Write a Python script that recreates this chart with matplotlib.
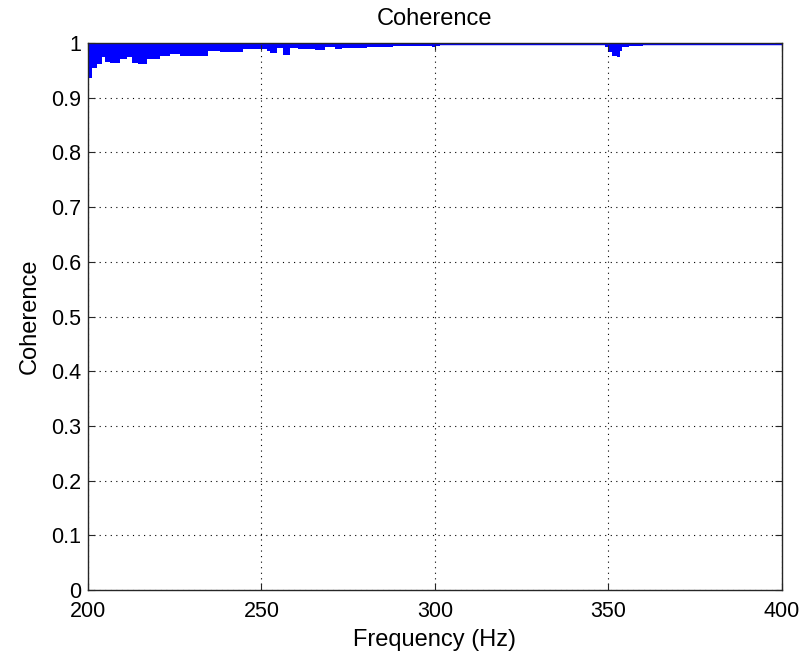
import matplotlib
matplotlib.use("Agg")
import matplotlib.pyplot as plt

# lower envelope of the (dense) coherence trace
freq = [200.0, 201.2, 202.6, 204.0, 204.9, 206.3, 209.2, 211.2, 212.7, 214.4,
        217.0, 220.7, 223.6, 226.5, 234.6, 238.0, 244.7, 251.6, 252.4, 254.5,
        256.2, 258.2, 260.5, 265.4, 268.3, 271.2, 273.2, 280.4, 287.9, 299.0,
        300.0, 301.4, 304.3, 349.0, 350.0, 351.0, 352.4, 353.2, 353.9, 356.0,
        360.0, 361.0, 400.0]
coh_min = [0.936, 0.954, 0.962, 0.974, 0.965, 0.963, 0.971, 0.975, 0.963, 0.962,
           0.971, 0.976, 0.980, 0.976, 0.985, 0.984, 0.989, 0.985, 0.982, 0.990,
           0.978, 0.990, 0.989, 0.987, 0.993, 0.989, 0.991, 0.993, 0.995, 0.993,
           0.995, 0.997, 1.000, 0.992, 0.983, 0.976, 0.975, 0.985, 0.993, 0.995,
           0.996, 1.000, 1.000]
coh_max = [1.0] * len(freq)

fig = plt.figure(figsize=(8.05, 6.63), dpi=100)
ax = fig.add_axes([0.1093, 0.1101, 0.8621, 0.825])

ax.fill_between(freq, coh_min, coh_max, step='post', color='#0000ff', lw=0)
ax.plot(freq, coh_max, color='#0000ff', lw=2.5, solid_capstyle='butt')

ax.set_xlim(200, 400)
ax.set_ylim(0, 1)
ax.set_xticks([200, 250, 300, 350, 400])
ax.set_yticks([i / 10 for i in range(11)])
ax.set_yticklabels(['0', '0.1', '0.2', '0.3', '0.4', '0.5', '0.6', '0.7', '0.8', '0.9', '1'])

font = 'Liberation Sans'
for lab in ax.get_xticklabels() + ax.get_yticklabels():
    lab.set_fontfamily(font)
    lab.set_fontsize(15.5)

ax.grid(True, color='black', linestyle=(0, (1, 4)), linewidth=0.8)
ax.tick_params(axis='x', pad=8)
ax.tick_params(axis='y', pad=5)
ax.tick_params(direction='in', top=True, right=True, length=5, color='#262626')
for s in ax.spines.values():
    s.set_color('#262626')
    s.set_linewidth(1.0)

ax.set_title('Coherence', fontfamily=font, fontsize=17, pad=13)
ax.set_xlabel('Frequency (Hz)', fontfamily=font, fontsize=17, labelpad=5)
ax.set_ylabel('Coherence', fontfamily=font, fontsize=17, labelpad=7)

fig.savefig('out.png', dpi=100)
